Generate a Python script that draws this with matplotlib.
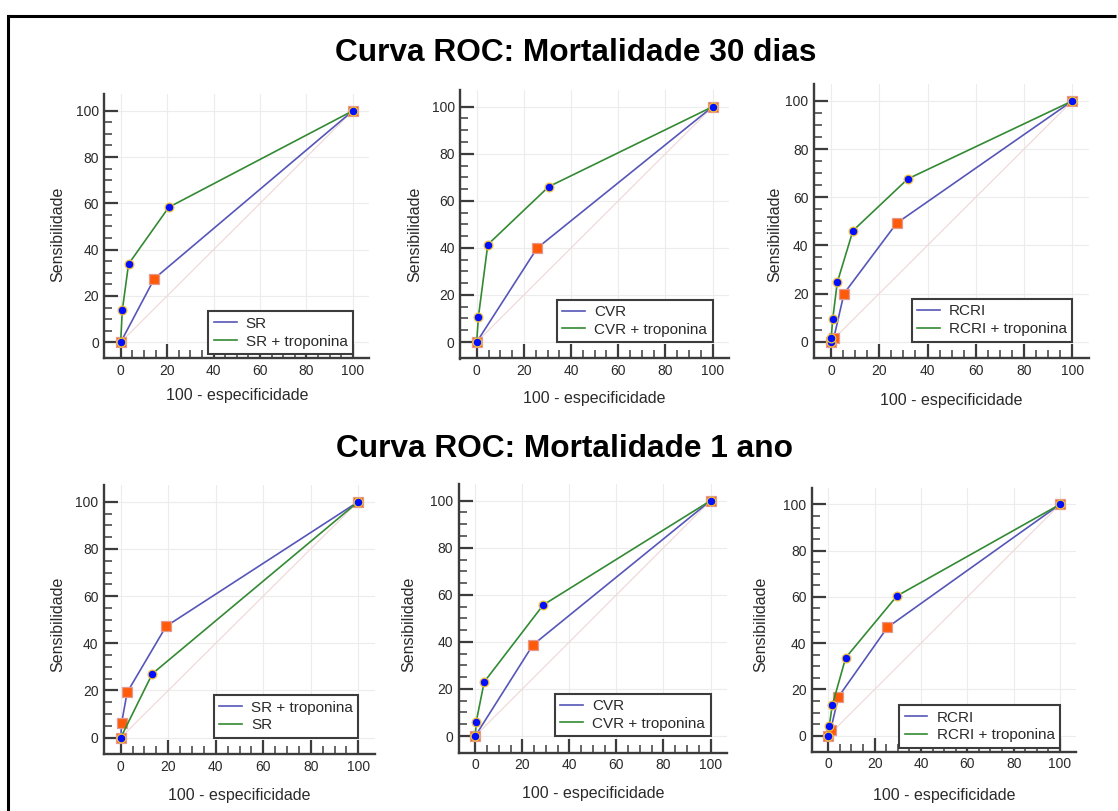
import matplotlib.pyplot as plt
from matplotlib.lines import Line2D
from matplotlib.ticker import FixedLocator

plt.rcParams['font.family'] = ['Liberation Sans', 'DejaVu Sans']

W, H = 1118, 811

# ---- data: (100 - especificidade, sensibilidade) points of each curve ----
# 30 dias
sr30_x = [0, 14.5, 100]
sr30_y = [0, 27.5, 100]
sr30_trop_x = [0, 0.7, 3.4, 20.7, 100]
sr30_trop_y = [0, 13.8, 33.8, 58.3, 100]

cvr30_x = [0, 25.6, 100]
cvr30_y = [0, 39.9, 100]
cvr30_trop_x = [0, 0.7, 4.7, 30.5, 100]
cvr30_trop_y = [0, 10.6, 41.4, 66.0, 100]

rcri30_x = [0, 1.2, 5.4, 27.2, 100]
rcri30_y = [0, 1.7, 20.0, 49.2, 100]
rcri30_trop_x = [0, 0.1, 0.7, 2.6, 9.1, 31.8, 100]
rcri30_trop_y = [0, 1.6, 9.3, 24.6, 46.1, 67.6, 100]

# 1 ano
sr1_trop_x = [0, 0.4, 2.7, 19.1, 100]
sr1_trop_y = [0, 6.4, 19.2, 47.2, 100]
sr1_x = [0, 13.3, 100]
sr1_y = [0, 27.1, 100]

cvr1_x = [0, 24.5, 100]
cvr1_y = [0, 38.7, 100]
cvr1_trop_x = [0, 0.4, 3.8, 28.9, 100]
cvr1_trop_y = [0, 6.0, 23.0, 55.7, 100]

rcri1_x = [0, 1.0, 4.3, 25.5, 100]
rcri1_y = [0, 2.4, 16.7, 46.8, 100]
rcri1_trop_x = [0, 0.4, 1.7, 7.5, 29.6, 100]
rcri1_trop_y = [0, 4.2, 13.1, 33.7, 60.4, 100]

titles = ['Curva ROC: Mortalidade 30 dias', 'Curva ROC: Mortalidade 1 ano']

# (first curve label, x, y), (second curve label, x, y)
panels = [
    (('SR', sr30_x, sr30_y), ('SR + troponina', sr30_trop_x, sr30_trop_y)),
    (('CVR', cvr30_x, cvr30_y), ('CVR + troponina', cvr30_trop_x, cvr30_trop_y)),
    (('RCRI', rcri30_x, rcri30_y), ('RCRI + troponina', rcri30_trop_x, rcri30_trop_y)),
    (('SR + troponina', sr1_trop_x, sr1_trop_y), ('SR', sr1_x, sr1_y)),
    (('CVR', cvr1_x, cvr1_y), ('CVR + troponina', cvr1_trop_x, cvr1_trop_y)),
    (('RCRI', rcri1_x, rcri1_y), ('RCRI + troponina', rcri1_trop_x, rcri1_trop_y)),
]

# ---- layout (pixels): axes box left, top, width, height; label spots; legend bottom ----
boxes = [
    (104.4, 94.5, 264.8, 264.0),
    (460.2, 90.2, 269.0, 268.3),
    (814.1, 84.1, 275.1, 274.4),
    (104.1, 485.2, 270.8, 269.0),
    (458.8, 484.2, 268.2, 268.3),
    (812.1, 488.2, 264.1, 263.7),
]
ylabel_x = [65, 422, 782, 65, 416, 768]
ylabel_y = [234, 234, 234, 624, 624, 624]
xlabel_top = [388, 391, 393, 788, 786, 788]
legend_bottom = [-5.0, 0, 0, 0, 0, -5.2]

BLUE_LINE = '#5656b8'
GREEN_LINE = '#338a33'
AXIS_C = '#3c3c3c'
TEXT_C = '#2a2a2a'

fig = plt.figure(figsize=(W / 100, H / 100), dpi=100)

for i, ((lab1, x1, y1), (lab2, x2, y2)) in enumerate(panels):
    l, t, w, h = boxes[i]
    ax = fig.add_axes([l / W, 1 - (t + h) / H, w / W, h / H])
    ax.set_xlim(-7, 107)
    ax.set_ylim(-7, 107)

    ax.plot([0, 100], [0, 100], color='#f0d6d6', lw=0.8, zorder=1)
    ax.plot(x1, y1, color=BLUE_LINE, lw=1.2, marker='s', ms=6.8,
            mfc='#ff5a0a', mec='#e09a90', mew=0.9, label=lab1, zorder=3)
    ax.plot(x2, y2, color=GREEN_LINE, lw=1.2, marker='o', ms=6.3,
            mfc='#0010ff', mec='#f0c040', mew=0.9, label=lab2, zorder=4)

    for s in ('top', 'right'):
        ax.spines[s].set_visible(False)
    for s in ('left', 'bottom'):
        ax.spines[s].set_color(AXIS_C)
        ax.spines[s].set_linewidth(1.7)

    ax.xaxis.set_major_locator(FixedLocator([0, 20, 40, 60, 80, 100]))
    ax.yaxis.set_major_locator(FixedLocator([0, 20, 40, 60, 80, 100]))
    minor = [v for v in range(5, 100, 5) if v % 20]
    ax.xaxis.set_minor_locator(FixedLocator(minor))
    ax.yaxis.set_minor_locator(FixedLocator(minor))
    ax.tick_params(which='major', direction='in', length=10, width=1.6,
                   color=AXIS_C, labelsize=10, labelcolor=TEXT_C, pad=4)
    ax.tick_params(which='minor', direction='in', length=5.5, width=1.1,
                   color=AXIS_C)
    ax.grid(True, which='major', color='#ececec', lw=0.8)
    ax.set_axisbelow(True)

    ax.set_xlabel('100 - especificidade', fontsize=11.5, color=TEXT_C)
    ax.set_ylabel('Sensibilidade', fontsize=11.5, color=TEXT_C)
    ax.xaxis.set_label_coords(0.5, ((t + h) - xlabel_top[i]) / h)
    ax.yaxis.set_label_coords((ylabel_x[i] - l) / w, ((t + h) - ylabel_y[i]) / h)

    leg = ax.legend(loc='lower right', bbox_to_anchor=(100, legend_bottom[i]),
                    bbox_transform=ax.transData, borderaxespad=0,
                    fontsize=11, fancybox=False, framealpha=1,
                    handlelength=1.5, handletextpad=0.6, labelspacing=0.25,
                    borderpad=0.35)
    leg.get_frame().set_edgecolor(AXIS_C)
    leg.get_frame().set_linewidth(1.5)
    for line in leg.get_lines():
        line.set_marker('')
    for txt in leg.get_texts():
        txt.set_color(TEXT_C)

fig.text(576 / W, 1 - 61 / H, titles[0], ha='center', va='baseline',
         fontsize=22.8, fontweight='bold')
fig.text(565 / W, 1 - 457 / H, titles[1], ha='center', va='baseline',
         fontsize=22.8, fontweight='bold')

# outer frame: only top and left edges fall inside the image
top_y = 1 - 15.5 / H
left_x = 7.5 / W
fig.add_artist(Line2D([left_x, 0.9985], [top_y, top_y], transform=fig.transFigure,
                      color='black', lw=2.2, solid_capstyle='butt'))
fig.add_artist(Line2D([left_x, left_x], [0.0, top_y], transform=fig.transFigure,
                      color='black', lw=2.2, solid_capstyle='projecting'))

fig.savefig('out.png', dpi=100)
